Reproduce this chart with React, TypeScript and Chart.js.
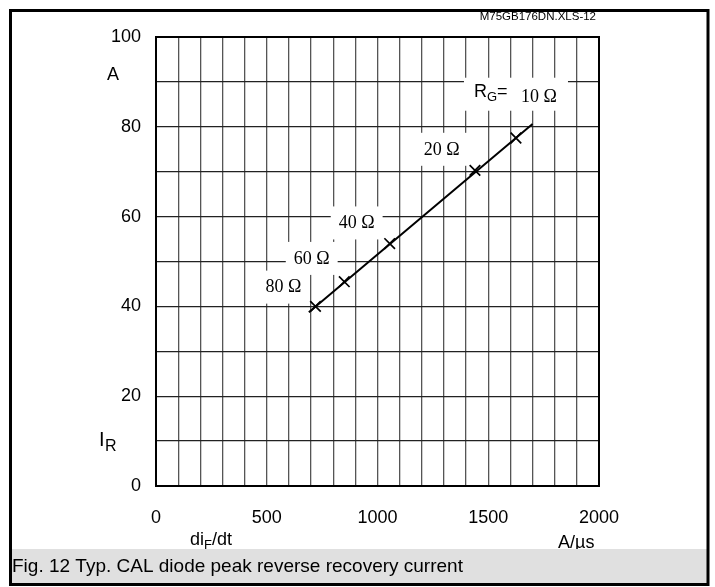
import React, { useEffect, useRef } from "react";
import { Chart, registerables } from "chart.js";

Chart.register(...registerables);

// Gate resistance points along the curve
const resistanceLabels = ["80 Ω", "60 Ω", "40 Ω", "20 Ω", "10 Ω"];
const diFdt = [720, 850, 1055, 1440, 1625]; // A/µs
const peakIR = [40, 45.5, 54, 70.3, 77.5]; // A
// Ends of the drawn characteristic
const lineDiFdt = [690, 1700];
const lineIR = [38.7, 80.6];
// Labelled ticks
const xTickLabels = [0, 500, 1000, 1500, 2000];
const yTickLabels = [0, 20, 40, 60, 80, 100];

const SANS = "'Liberation Sans', Arial, Helvetica, sans-serif";
const SERIF = "'Liberation Serif', 'Times New Roman', serif";

// Where each resistance label sits (data units of the axes)
const labelAnchors = [
  { x: 575, y: 44.4 },
  { x: 703, y: 50.8 },
  { x: 906, y: 58.7 },
  { x: 1290, y: 75.1 },
  { x: 1729, y: 86.7 },
];

const annotations = {
  id: "annotations",
  beforeDatasetsDraw(chart: any) {
    const { ctx, scales } = chart;
    const xs = scales.x;
    const ys = scales.y;
    ctx.save();
    ctx.font = `18px ${SERIF}`;
    ctx.textAlign = "center";
    ctx.textBaseline = "middle";
    resistanceLabels.forEach((t, i) => {
      const cx = xs.getPixelForValue(labelAnchors[i].x);
      const cy = ys.getPixelForValue(labelAnchors[i].y);
      const w = ctx.measureText(t).width;
      ctx.fillStyle = "#fff";
      if (i === resistanceLabels.length - 1) {
        ctx.fillRect(cx - 75, cy - 19, 104, 33);
      } else {
        ctx.fillRect(cx - w / 2 - 8, cy - 16, w + 16, 33);
      }
    });
    resistanceLabels.forEach((t, i) => {
      const cx = xs.getPixelForValue(labelAnchors[i].x);
      const cy = ys.getPixelForValue(labelAnchors[i].y);
      ctx.fillStyle = "#000";
      ctx.fillText(t, cx, cy + 1);
    });
    // R_G= prefix before the 10 Ω label
    const last = labelAnchors[labelAnchors.length - 1];
    const px = xs.getPixelForValue(last.x);
    const py = ys.getPixelForValue(last.y);
    ctx.textAlign = "left";
    ctx.font = `18px ${SANS}`;
    ctx.fillText("R", px - 65, py - 5);
    const rw = ctx.measureText("R").width;
    ctx.font = `13px ${SANS}`;
    ctx.fillText("G", px - 65 + rw, py + 1);
    const gw = ctx.measureText("G").width;
    ctx.font = `18px ${SANS}`;
    ctx.fillText("=", px - 65 + rw + gw, py - 5);
    ctx.restore();
  },
  afterDraw(chart: any) {
    const { ctx, chartArea } = chart;
    ctx.save();
    // plot frame
    ctx.strokeStyle = "#000";
    ctx.lineWidth = 2;
    ctx.strokeRect(
      chartArea.left,
      chartArea.top,
      chartArea.right - chartArea.left,
      chartArea.bottom - chartArea.top
    );
    // axis names
    ctx.fillStyle = "#000";
    ctx.textBaseline = "middle";
    ctx.textAlign = "left";
    ctx.font = `18px ${SANS}`;
    ctx.fillText("A", 107, 75);
    ctx.font = `20px ${SANS}`;
    ctx.fillText("I", 99, 440);
    ctx.font = `16px ${SANS}`;
    ctx.fillText("R", 105, 447);

    ctx.font = `18px ${SANS}`;
    ctx.fillText("di", 190, 540);
    let w = ctx.measureText("di").width;
    ctx.font = `13px ${SANS}`;
    ctx.fillText("F", 190 + w, 545);
    w += ctx.measureText("F").width;
    ctx.font = `18px ${SANS}`;
    ctx.fillText("/dt", 190 + w, 540);
    ctx.fillText("A/µs", 558, 543);

    // file reference
    ctx.font = `11.5px ${SANS}`;
    ctx.textAlign = "right";
    ctx.fillText("M75GB176DN.XLS-12", 596, 17);

    // caption band
    ctx.fillStyle = "#e0e0e0";
    ctx.fillRect(12, 549, 695, 35);
    ctx.fillStyle = "#000";
    ctx.textAlign = "left";
    ctx.font = `19px ${SANS}`;
    ctx.fillText("Fig. 12 Typ. CAL diode peak reverse recovery current", 12, 567);

    // outer frame
    ctx.lineWidth = 3;
    ctx.strokeRect(10.5, 10.5, 697.5, 574);
    ctx.restore();
  },
};

export default function App() {
  const ref = useRef<HTMLCanvasElement>(null);
  useEffect(() => {
    if (!ref.current) return;
    const chart = new Chart(ref.current, {
      type: "scatter",
      data: {
        datasets: [
          {
            data: lineDiFdt.map((x, i) => ({ x, y: lineIR[i] })),
            showLine: true,
            borderColor: "#000",
            borderWidth: 2,
            pointRadius: 0,
          },
          {
            data: diFdt.map((x, i) => ({ x, y: peakIR[i] })),
            pointStyle: "crossRot",
            pointRadius: 7.5,
            borderColor: "#000",
            pointBorderWidth: 1.7,
            backgroundColor: "#000",
          },
        ],
      },
      options: {
        responsive: false,
        animation: false,
        events: [],
        layout: { padding: { left: 0, right: 116, top: 37, bottom: 0 } },
        plugins: { legend: { display: false }, tooltip: { enabled: false } },
        scales: {
          x: {
            type: "linear",
            min: 0,
            max: 2000,
            afterFit: (s: any) => {
              s.height = 101;
            },
            grid: { color: "#555", lineWidth: 1.3, drawTicks: false },
            border: { display: false },
            ticks: {
              stepSize: 100,
              autoSkip: false,
              maxRotation: 0,
              padding: 21,
              color: "#000",
              font: { family: SANS, size: 18 },
              callback: (v: any) => (xTickLabels.includes(Number(v)) ? String(v) : ""),
            },
          },
          y: {
            min: 0,
            max: 100,
            afterFit: (s: any) => {
              s.width = 156;
            },
            grid: { color: "#222", lineWidth: 1.3, drawTicks: false },
            border: { display: false },
            ticks: {
              stepSize: 10,
              autoSkip: false,
              padding: 15,
              color: "#000",
              font: { family: SANS, size: 18 },
              callback: (v: any) => (yTickLabels.includes(Number(v)) ? String(v) : ""),
            },
          },
        },
      },
      plugins: [annotations],
    });
    return () => chart.destroy();
  }, []);
  return (
    <div style={{ position: "absolute", left: 0, top: 0, width: 715, height: 587, background: "#fff" }}>
      <canvas ref={ref} width={715} height={587} />
    </div>
  );
}
